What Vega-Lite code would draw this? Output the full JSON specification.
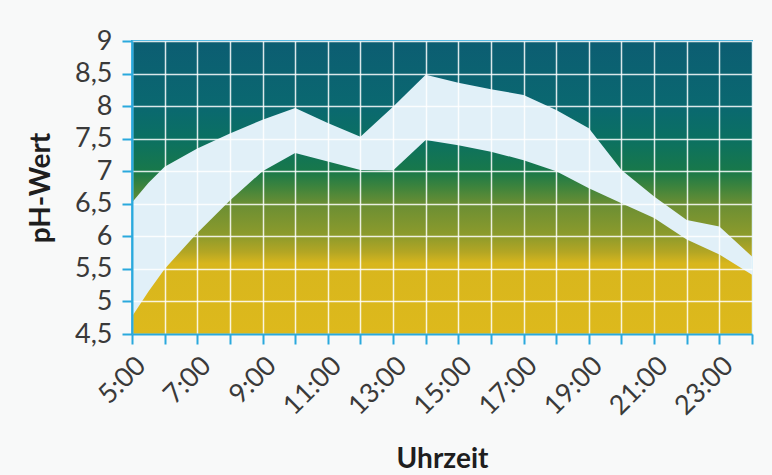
{
  "$schema": "https://vega.github.io/schema/vega-lite/v6.json",
  "width": 620,
  "height": 293,
  "autosize": {"type": "none"},
  "padding": {"left": 132, "top": 41, "right": 20, "bottom": 141},
  "background": "#f8f9f9",
  "config": {
    "view": {"stroke": "#2aa9dd", "strokeWidth": 2},
    "axis": {
      "domainColor": "#2aa9dd",
      "domainWidth": 2,
      "tickColor": "#2aa9dd",
      "tickWidth": 2,
      "tickSize": 10,
      "gridColor": "#ffffff",
      "gridWidth": 1.5,
      "gridOpacity": 0.85,
      "labelFont": "Lato",
      "labelFontSize": 27,
      "labelColor": "#3a3a3a",
      "titleFont": "Lato",
      "titleFontSize": 28,
      "titleFontWeight": "bold",
      "titleColor": "#1e1e1e"
    }
  },
  "encoding": {
    "x": {
      "field": "hour",
      "type": "quantitative",
      "scale": {"domain": [5, 24], "nice": false, "zero": false},
      "axis": {
        "zindex": 1,
        "values": [5, 6, 7, 8, 9, 10, 11, 12, 13, 14, 15, 16, 17, 18, 19, 20, 21, 22, 23, 24],
        "grid": true,
        "labelExpr": "datum.value % 2 == 1 ? datum.value + ':00' : ''",
        "labelAngle": -45,
        "labelAlign": "right",
        "labelBaseline": "top",
        "labelPadding": 8,
        "labelOverlap": false,
        "labelFlush": false,
        "title": "Uhrzeit",
        "titleX": 310,
        "titleY": 133,
        "titleAlign": "center",
        "titleBaseline": "alphabetic"
      }
    },
    "y": {
      "field": "lo",
      "type": "quantitative",
      "scale": {"domain": [4.5, 9], "nice": false, "zero": false},
      "axis": {
        "zindex": 1,
        "values": [4.5, 5, 5.5, 6, 6.5, 7, 7.5, 8, 8.5, 9],
        "grid": true,
        "labelExpr": "replace(datum.value + '', '.', ',')",
        "labelPadding": 10,
        "labelOverlap": false,
        "labelFlush": false,
        "title": "pH-Wert",
        "titleAngle": -90,
        "titleX": -83,
        "titleY": 146.5,
        "titleAlign": "center",
        "titleBaseline": "alphabetic"
      }
    }
  },
  "layer": [
    {
      "data": {"values": [{"hour": 5, "hour2": 24, "lo": 4.5, "hi": 9}]},
      "mark": {
        "type": "rect",
        "fill": {
          "gradient": "linear",
          "x1": 0, "y1": 0, "x2": 0, "y2": 1,
          "stops": [
            {"offset": 0, "color": "#0c5d72"},
            {"offset": 0.222, "color": "#0a6870"},
            {"offset": 0.333, "color": "#0b7062"},
            {"offset": 0.444, "color": "#18784a"},
            {"offset": 0.5, "color": "#3f843c"},
            {"offset": 0.556, "color": "#6a8e34"},
            {"offset": 0.667, "color": "#8e9b2b"},
            {"offset": 0.72, "color": "#b3a624"},
            {"offset": 0.76, "color": "#d8b61d"},
            {"offset": 1, "color": "#ddb91c"}
          ]
        }
      },
      "encoding": {
        "x2": {"field": "hour2"},
        "y2": {"field": "hi"}
      }
    },
    {
      "data": {
        "values": [
          {"hour": 5, "lo": 4.77, "hi": 6.52},
          {"hour": 5.5, "lo": 5.15, "hi": 6.82},
          {"hour": 6, "lo": 5.5, "hi": 7.07},
          {"hour": 7, "lo": 6.05, "hi": 7.35},
          {"hour": 8, "lo": 6.55, "hi": 7.58},
          {"hour": 9, "lo": 7.0, "hi": 7.79},
          {"hour": 10, "lo": 7.28, "hi": 7.97},
          {"hour": 11, "lo": 7.15, "hi": 7.74},
          {"hour": 12, "lo": 7.02, "hi": 7.53},
          {"hour": 13, "lo": 7.01, "hi": 7.99},
          {"hour": 14, "lo": 7.48, "hi": 8.48},
          {"hour": 15, "lo": 7.4, "hi": 8.36},
          {"hour": 16, "lo": 7.3, "hi": 8.26},
          {"hour": 17, "lo": 7.17, "hi": 8.17},
          {"hour": 18, "lo": 7.0, "hi": 7.94},
          {"hour": 19, "lo": 6.74, "hi": 7.66},
          {"hour": 20, "lo": 6.51, "hi": 7.02},
          {"hour": 21, "lo": 6.28, "hi": 6.61},
          {"hour": 22, "lo": 5.95, "hi": 6.25},
          {"hour": 23, "lo": 5.72, "hi": 6.15},
          {"hour": 24, "lo": 5.41, "hi": 5.69}
        ]
      },
      "mark": {"type": "area", "color": "#e1f0f8", "interpolate": "linear"},
      "encoding": {
        "y2": {"field": "hi"}
      }
    }
  ]
}
